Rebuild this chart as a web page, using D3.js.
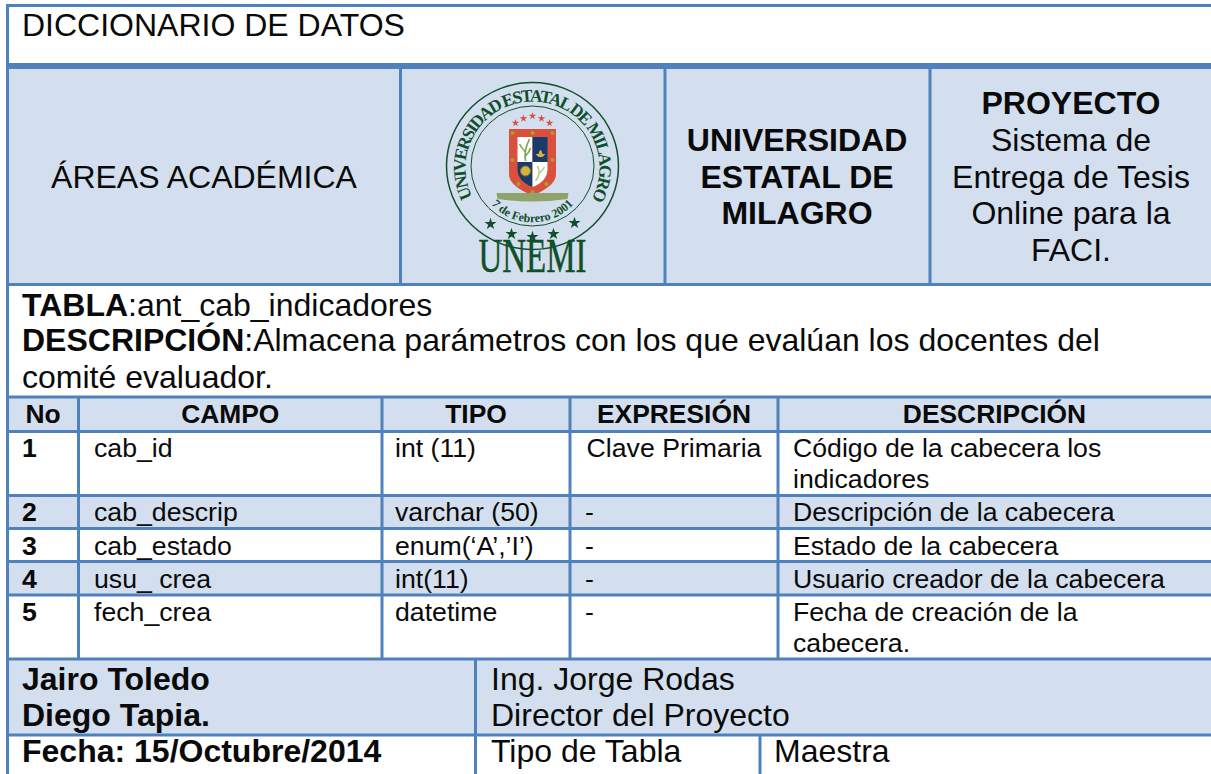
<!DOCTYPE html>
<html><head><meta charset="utf-8">
<script src="https://cdn.jsdelivr.net/npm/d3@7/dist/d3.min.js"></script>
<style>html,body{margin:0;padding:0;background:#fff;overflow:hidden}svg{display:block}text{font-family:"Liberation Sans",Arial,sans-serif;fill:#0a0a0a}</style>
</head><body><svg id="c" width="1211" height="774"></svg>
<script>
const headers = ["No","CAMPO","TIPO","EXPRESIÓN","DESCRIPCIÓN"];
const numbers = ["1","2","3","4","5"];
const campos = ["cab_id","cab_descrip","cab_estado","usu_ crea","fech_crea"];
const tipos = ["int (11)","varchar (50)","enum(‘A’,’I’)","int(11)","datetime"];
const expresiones = ["Clave Primaria","-","-","-","-"];
const descripciones = [["Código de la cabecera los","indicadores"],["Descripción de la cabecera"],["Estado de la cabecera"],["Usuario creador de la cabecera"],["Fecha de creación de la","cabecera."]];
const universidad = ["UNIVERSIDAD","ESTATAL DE","MILAGRO"];
const proyecto = ["Sistema de","Entrega de Tesis","Online para la","FACI."];

const blue="#4f81bd", light="#d3dfee", green="#0f4f2a", red="#d9503c", navy="#1a3a6b", gold="#d6b33c";
const svg=d3.select("#c");
const W=1211;
// Scales
const colEdge=d3.scaleOrdinal().domain([...headers,"end"]).range([7.5,78.5,382,570,778,W]);
const colCenter=h=>(colEdge(h)+colEdge(headers[headers.indexOf(h)+1]||"end"))/2;
const rowTop=d3.scaleOrdinal().domain(["h",...numbers,"end"]).range([397,431.5,495.5,528.5,561.5,595,659]);
const rowBase=d3.scaleOrdinal().domain(numbers).range([456.7,521,555,588,621]);
const lineGap=31;

const R=(x,y,w,h,f)=>svg.append("rect").attr("x",x).attr("y",y).attr("width",w).attr("height",h).attr("fill",f);
const T=(s,x,y,size,o={})=>svg.append("text").attr("x",x).attr("y",y).attr("font-size",size).attr("font-weight",o.b?"bold":"normal").attr("text-anchor",o.a||"start").text(s);
const H=(y,t,x0=6,x1=W)=>R(x0,y-t/2,x1-x0,t,blue);
const V=(x,y0,y1,t=3)=>R(x-t/2,y0,t,y1-y0,blue);

// Fills
R(8,66,W-8,218,light);
svg.append("g").selectAll("rect").data(["h","2","4"]).join("rect")
  .attr("x",8).attr("width",W-8).attr("fill",light)
  .attr("y",d=>rowTop(d))
  .attr("height",d=>rowTop(d==="h"?"1":String(+d+1))-rowTop(d));
R(8,659,W-8,76,light);

// Grid lines
H(5.5,3);H(66,6);H(284.5,3);
["h",...numbers,"end"].forEach(k=>H(rowTop(k),3));
H(735,3);
V(7.5,4,774,3);
[400.5,665,930].forEach(x=>V(x,66,284,3));
headers.slice(1).forEach(h=>V(colEdge(h),397,659,3));
V(475.5,659,774,3);V(760,735,774,3);

// Heading block
T("DICCIONARIO DE DATOS",22,36,32);
T("ÁREAS ACADÉMICA",204,188,32,{a:"middle"});
universidad.forEach((s,i)=>T(s,797,[151,187.5,224][i],32,{a:"middle",b:1}));
T("PROYECTO",1071,114,32,{a:"middle",b:1});
proyecto.forEach((s,i)=>T(s,1071,[151,187.5,223.5,260.5][i],32,{a:"middle"}));

// Logo
const lg=svg.append("g").attr("transform","translate(532.5,166)");
lg.append("ellipse").attr("rx",86).attr("ry",83.5).attr("fill","none").attr("stroke",green).attr("stroke-width",1.5);
lg.append("ellipse").attr("rx",61.5).attr("ry",60).attr("fill","none").attr("stroke",green).attr("stroke-width",1);
const defs=svg.append("defs");
defs.append("path").attr("id","arcT").attr("d","M -60 31 A 67 66 0 1 1 60 31");
defs.append("path").attr("id","arcB").attr("d","M -44 35 A 56 56 0 0 0 44 35");
lg.append("text").attr("font-size",17.5).attr("font-weight","bold").style("font-family","Liberation Serif").style("fill",green)
 .append("textPath").attr("href","#arcT").attr("textLength",272).attr("lengthAdjust","spacing").style("font-family","Liberation Serif").text("UNIVERSIDAD ESTATAL DE MILAGRO");
lg.append("text").attr("font-size",12).attr("font-weight","bold").style("font-family","Liberation Serif").style("fill",green)
 .append("textPath").attr("href","#arcB").attr("startOffset","50%").attr("text-anchor","middle").style("font-family","Liberation Serif").text("7 de Febrero 2001");
const star=d3.symbol().type(d3.symbolStar);
[[-17,-43],[-9,-47.5],[0,-50],[9,-47.5],[17,-43]].forEach(([x,y])=>lg.append("path").attr("d",star.size(18)()).attr("fill",red).attr("transform",`translate(${x},${y})`));
[[-42,58],[-21,68],[0,71],[21,68],[42,57]].forEach(([x,y])=>lg.append("path").attr("d",star.size(45)()).attr("fill",green).attr("transform",`translate(${x},${y})`));
lg.append("path").attr("d","M-23.5,-37H23.5V8Q23.5,20 0,29.5Q-23.5,20 -23.5,8Z").attr("fill",red);
lg.append("path").attr("d","M-15,-29H0V-4H-15Z").attr("fill","#fff");
lg.append("path").attr("d","M0,-29H15V-4H0Z").attr("fill",navy);
lg.append("path").attr("d","M-15,-4H0V21Q-15,15 -15,3Z").attr("fill",navy);
lg.append("path").attr("d","M0,-4H15V3Q15,15 0,21Z").attr("fill","#fff");
lg.append("path").attr("d","M-7,-5Q-9,-15 -3,-27M-7,-14Q-11,-18 -13,-22M-7,-10Q-3,-14 -2,-18").attr("fill","none").attr("stroke","#7ea04a").attr("stroke-width",1.6);
lg.append("path").attr("d","M3,-12H13L10,-9H6ZM6,-12Q8,-20 10,-12").attr("fill",gold);
lg.append("circle").attr("cx",-7).attr("cy",5).attr("r",5).attr("fill",gold).attr("stroke","#8a7a30").attr("stroke-width",1);
lg.append("path").attr("d","M3,15Q9,8 5,0M6,8Q10,5 12,1").attr("fill","none").attr("stroke","#b5c48a").attr("stroke-width",1.4);
[[-20,-33],[0,-33],[20,-33],[-20,-6],[20,-6],[-14,18],[14,18],[0,26]].forEach(([x,y])=>lg.append("circle").attr("cx",x).attr("cy",y).attr("r",2).attr("fill","#a8a02c"));
lg.append("path").attr("d","M-36,27L36,27L35,33Q0,38 -35,33Z").attr("fill","#8fa36a");
lg.append("text").attr("x",0).attr("y",106).attr("text-anchor","middle").attr("font-size",48).attr("textLength",108).attr("lengthAdjust","spacingAndGlyphs").style("font-family","Liberation Serif").style("fill",green).style("stroke",green).style("stroke-width",0.5).text("UNEMI");

// Table description
svg.append("text").attr("x",22).attr("y",315.5).attr("font-size",32).html('<tspan font-weight="bold">TABLA</tspan>:ant_cab_indicadores');
svg.append("text").attr("x",22).attr("y",351).attr("font-size",32).html('<tspan font-weight="bold">DESCRIPCIÓN</tspan>:Almacena parámetros con los que evalúan los docentes del');
T("comité evaluador.",22,388,32);

// Header
svg.append("g").selectAll("text").data(headers).join("text")
  .attr("x",h=>colCenter(h)).attr("y",423).attr("font-size",26.4).attr("font-weight","bold").attr("text-anchor","middle").text(h=>h);

// Rows
const body=svg.append("g").attr("font-size",26.67);
const rows=body.selectAll("g").data(numbers).join("g").attr("transform",n=>`translate(0,${rowBase(n)})`);
rows.append("text").attr("x",22).attr("font-weight","bold").text(n=>n);
rows.append("text").attr("x",94).text((n,i)=>campos[i]);
rows.append("text").attr("x",395).text((n,i)=>tipos[i]);
rows.append("text").attr("x",(n,i)=>expresiones[i]==="-"?585:colCenter("EXPRESIÓN")).attr("text-anchor",(n,i)=>expresiones[i]==="-"?"start":"middle").text((n,i)=>expresiones[i]);
rows.each(function(n,i){
  d3.select(this).selectAll("text.d").data(descripciones[i]).join("text").attr("class","d").attr("x",793).attr("y",(d,j)=>j*lineGap).text(d=>d);
});

// Footer
T("Jairo Toledo",22,689.5,32,{b:1});
T("Diego Tapia.",22,725.5,32,{b:1});
T("Ing. Jorge Rodas",491,689.5,32);
T("Director del Proyecto",491,725.5,32);
T("Fecha: 15/Octubre/2014",22,762,32,{b:1});
T("Tipo de Tabla",491,762,32);
T("Maestra",774,762,32);
</script></body></html>
